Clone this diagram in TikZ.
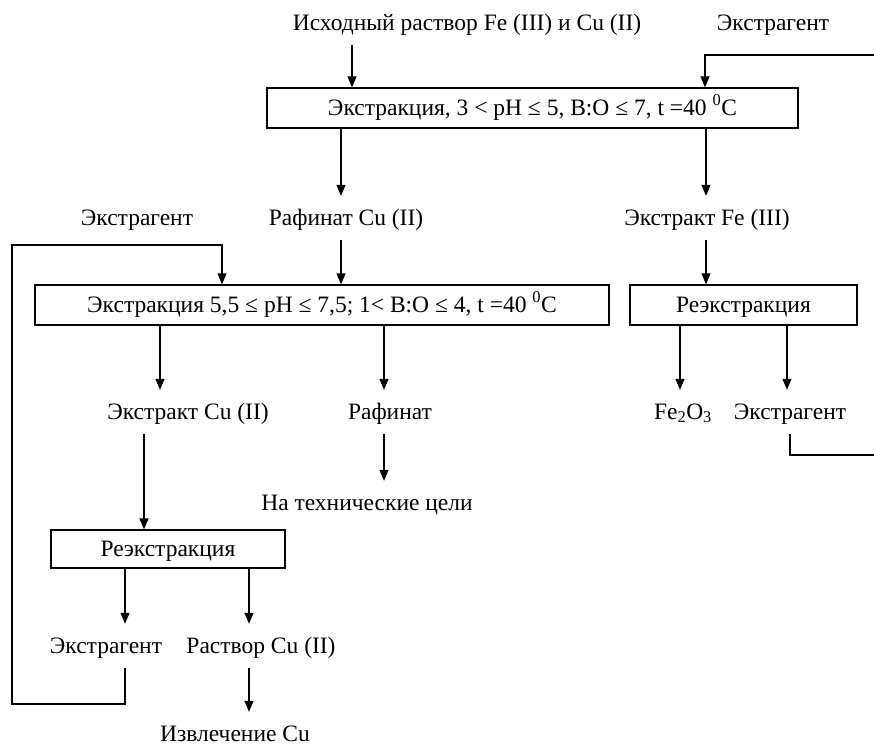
\documentclass[tikz,border=0pt]{standalone}
\usepackage{fontspec}
\setmainfont{Liberation Serif}
\usetikzlibrary{arrows.meta}
\begin{document}
\begin{tikzpicture}[x=1pt,y=-1pt,
  every node/.style={font=\fontsize{23.5}{26}\selectfont, inner sep=0pt, text height=17pt, text depth=3pt},
  lbl/.style={minimum height=44pt},
  boxn/.style={draw, line width=1.3pt, minimum height=40pt},
  arr/.style={line width=1.2pt, -{Triangle[width=9pt,length=11pt]}},
  ln/.style={line width=1.2pt}]
\useasboundingbox (0,0) rectangle (874,745);
% columns
\coordinate (cA) at (352,0);
\coordinate (cB) at (705,0);
\coordinate (cC) at (341,0);
\coordinate (cD) at (706,0);
\coordinate (cE) at (222,0);
\coordinate (cF) at (160,0);
\coordinate (cG) at (384,0);
\coordinate (cH) at (144,0);
\coordinate (cI) at (125,0);
\coordinate (cJ) at (249,0);
\coordinate (cK) at (680,0);
\coordinate (cL) at (787,0);
\coordinate (cM) at (790,0);
% texts
\node[lbl] (src) at (467,23) {Исходный раствор Fe (III) и Cu (II)};
\node[lbl] (ext0) at (773,23) {Экстрагент};
\node[boxn, minimum width=531pt] (b1) at (532.5,108) {Экстракция, 3 < pH ≤ 5, B:O ≤ 7, t =40 \textsuperscript{0}C};
\node[lbl] (rafcu) at (346,218) {Рафинат Cu (II)};
\node[lbl] (extfe) at (707,218) {Экстракт Fe (III)};
\node[lbl] (ext1) at (137,218) {Экстрагент};
\node[boxn, minimum width=574pt] (b2) at (322,305) {Экстракция 5,5 ≤ pH ≤ 7,5; 1< B:O ≤ 4, t =40 \textsuperscript{0}C};
\node[boxn, minimum width=227pt] (b3) at (743.5,305) {Реэкстракция};
\node[lbl] (fe2o3) at (683,412) {Fe\textsubscript{2}O\textsubscript{3}};
\node[lbl] (ext3) at (790,412) {Экстрагент};
\node[lbl] (extcu) at (188,412) {Экстракт Cu (II)};
\node[lbl] (raf) at (390,412) {Рафинат};
\node[lbl] (tech) at (367,503) {На технические цели};
\node[boxn, minimum width=234pt, minimum height=38pt] (b4) at (168,549) {Реэкстракция};
\node[lbl] (ext4) at (106,646) {Экстрагент};
\node[lbl] (rcu) at (261,646) {Раствор Cu (II)};
\node[lbl] (izv) at (235,734) {Извлечение Cu};
% free ends
\coordinate (rin) at (874,55);
\coordinate (rout) at (874,455);
\coordinate (lb) at (12,704);
\coordinate (lt) at (12,245);
% connectors
\draw[arr] (src.south -| cA) -- (b1.north -| cA);
\draw[arr] (rin) -| (b1.north -| cB);
\draw[arr] (b1.south -| cC) -- (rafcu.north -| cC);
\draw[arr] (b1.south -| cD) -- (extfe.north -| cD);
\draw[arr] (rafcu.south -| cC) -- (b2.north -| cC);
\draw[arr] (extfe.south -| cD) -- (b3.north -| cD);
\draw[arr] (b3.south -| cK) -- (fe2o3.north -| cK);
\draw[arr] (b3.south -| cL) -- (ext3.north -| cL);
\draw[ln] (ext3.south -| cM) |- (rout);
\draw[arr] (b2.south -| cF) -- (extcu.north -| cF);
\draw[arr] (b2.south -| cG) -- (raf.north -| cG);
\draw[arr] (raf.south -| cG) -- (tech.north -| cG);
\draw[arr] (extcu.south -| cH) -- (b4.north -| cH);
\draw[arr] (b4.south -| cI) -- (ext4.north -| cI);
\draw[arr] (b4.south -| cJ) -- (rcu.north -| cJ);
\draw[arr] (rcu.south -| cJ) -- (izv.north -| cJ);
\draw[arr] (ext4.south -| cI) |- (lb) -- (lt) -| (b2.north -| cE);
\end{tikzpicture}
\end{document}
